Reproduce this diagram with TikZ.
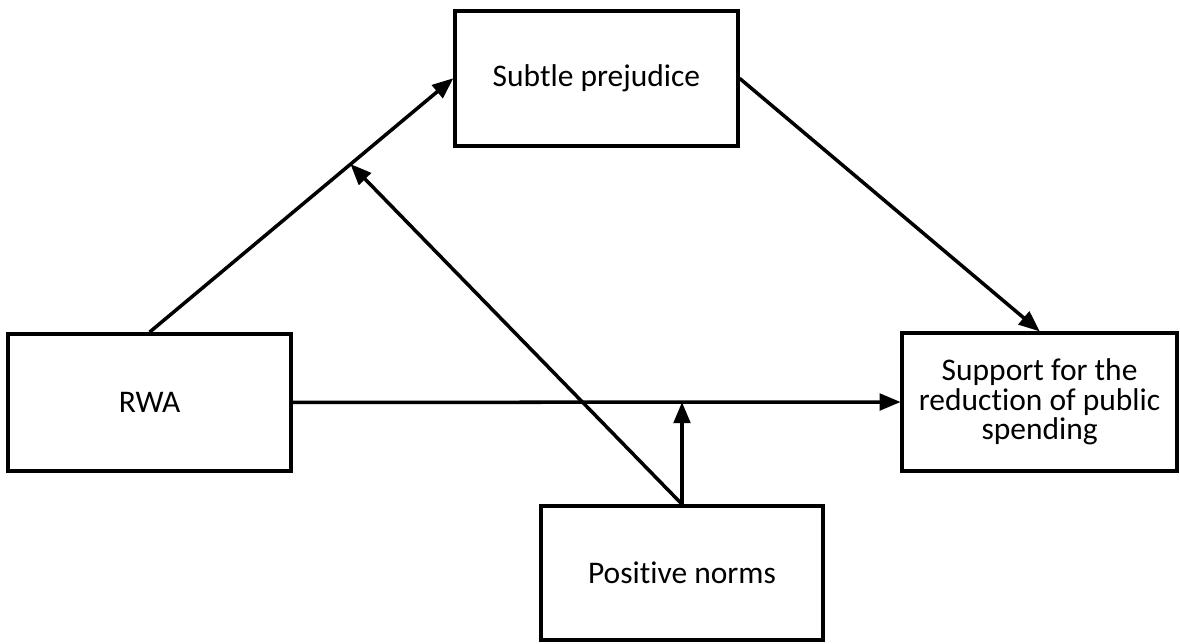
\documentclass[tikz,border=0pt]{standalone}
\usepackage{fontspec}
\setmainfont{Carlito}[Ligatures=NoCommon]
\usepackage{tikz}
\usetikzlibrary{arrows}

\begin{document}
\begin{tikzpicture}[paths/.style={->, line width=2.5pt, >=triangle 45},
  boxes/.style={draw, line width=2.5pt, align=center, inner sep=0pt,
    font=\fontsize{22.4}{21}\selectfont}]

 \useasboundingbox (0,0) rectangle (29.5,-16.075);

 \node (var_prejudice) [boxes, minimum width=7.075cm, minimum height=3.375cm] at (14.91,-1.96)
     {Subtle prejudice};

 \node (var_rwa) [boxes, minimum width=7.075cm, minimum height=3.425cm] at (3.74,-10.06)
     {RWA};

 \node (var_support) [boxes, minimum width=6.875cm, minimum height=3.45cm] at (25.99,-10.05)
     {Support for the\\reduction of public\\spending};

 \node (var_norms) [boxes, minimum width=7.05cm, minimum height=3.35cm] at (17.05,-14.325)
     {Positive norms};


 \draw [paths] (var_rwa.north) -- coordinate [pos=0.662] (mod_a) (var_prejudice.west);
 \draw [paths] (var_prejudice.east) -- (var_support.north);
 \draw [paths] (var_rwa.east) -- (var_support.west);
 \coordinate (mod_b) at (var_norms.north |- var_rwa.east);

 \draw [paths] (var_norms.north) -- (mod_a);
 \draw [paths] (var_norms.north) -- (mod_b);


 \end{tikzpicture}
\end{document}
